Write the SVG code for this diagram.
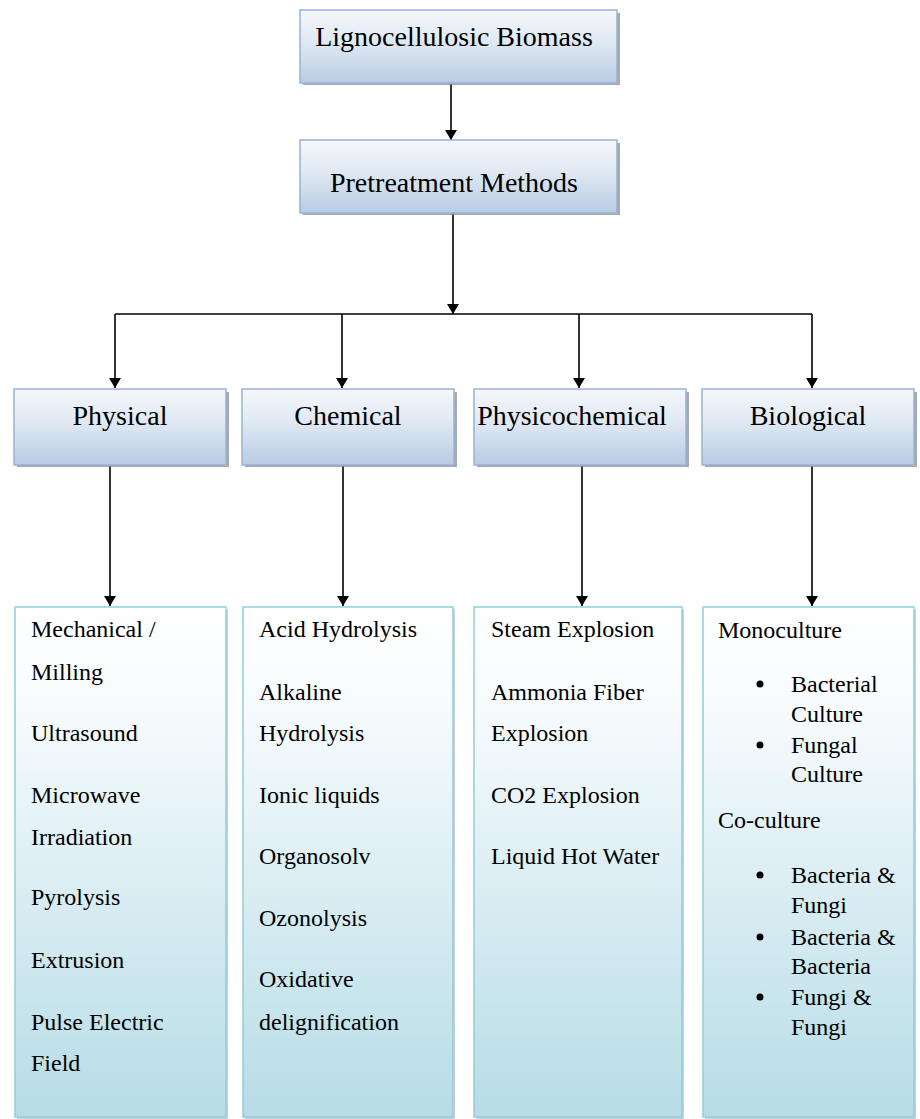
<svg xmlns="http://www.w3.org/2000/svg" width="920" height="1119" viewBox="0 0 920 1119">
<defs>
<linearGradient id="gHead" x1="0" y1="0" x2="0" y2="1">
<stop offset="0" stop-color="#f5f8fc"/>
<stop offset="0.45" stop-color="#dfe8f3"/>
<stop offset="1" stop-color="#b8cce4"/>
</linearGradient>
<linearGradient id="gList" x1="0" y1="0" x2="0" y2="1">
<stop offset="0" stop-color="#ffffff"/>
<stop offset="0.2" stop-color="#f7fbfd"/>
<stop offset="1" stop-color="#b6dce6"/>
</linearGradient>
<marker id="arr" viewBox="0 0 10 12" refX="10" refY="6" markerWidth="10" markerHeight="12" markerUnits="userSpaceOnUse" orient="auto">
<path d="M0,0 L10,6 L0,12 Z" fill="#000"/>
</marker>
</defs>
<style>
.head{fill:url(#gHead);stroke:#95b3d7;stroke-width:1.5}
.shadow{fill:#8c8c8c;opacity:0.75}
.list{fill:url(#gList);stroke:#93cddd;stroke-width:1.5}
.lshadow{fill:#9fb8c0;opacity:0.6}
.t28{font-size:28px;fill:#000}
.t24{font-size:24px;fill:#000}
.ln{stroke:#000;stroke-width:1.6;fill:none}
.bul{fill:#000}
</style>
<rect width="920" height="1119" fill="#ffffff"/>

<g id="connectors">
<line class="ln" x1="451" y1="84" x2="451" y2="140" marker-end="url(#arr)"/>
<line class="ln" x1="453" y1="213" x2="453" y2="314" marker-end="url(#arr)"/>
<line class="ln" x1="115" y1="314" x2="812" y2="314"/>
<line class="ln" x1="115" y1="314" x2="115" y2="388" marker-end="url(#arr)"/>
<line class="ln" x1="342" y1="314" x2="342" y2="388" marker-end="url(#arr)"/>
<line class="ln" x1="579" y1="314" x2="579" y2="388" marker-end="url(#arr)"/>
<line class="ln" x1="812" y1="314" x2="812" y2="388" marker-end="url(#arr)"/>
<line class="ln" x1="110" y1="466" x2="110" y2="606" marker-end="url(#arr)"/>
<line class="ln" x1="343" y1="466" x2="343" y2="606" marker-end="url(#arr)"/>
<line class="ln" x1="582" y1="466" x2="582" y2="606" marker-end="url(#arr)"/>
<line class="ln" x1="812" y1="466" x2="812" y2="606" marker-end="url(#arr)"/>
</g>

<g font-family="Liberation Serif, Times New Roman, DejaVu Serif, serif">
<g id="node-biomass">
<rect class="shadow" x="303" y="13" width="317" height="72"/>
<rect class="head" x="300" y="10" width="317" height="73"/>
<text class="t28" x="454" y="46" text-anchor="middle">Lignocellulosic Biomass</text>
</g>

<g id="node-pretreatment">
<rect class="shadow" x="303" y="143" width="317" height="72"/>
<rect class="head" x="300" y="140" width="317" height="73"/>
<text class="t28" x="454" y="192" text-anchor="middle">Pretreatment Methods</text>
</g>

<g id="node-physical">
<rect class="shadow" x="17" y="392" width="212" height="75"/>
<rect class="head" x="14" y="389" width="212" height="76"/>
<text class="t28" x="120" y="425" text-anchor="middle">Physical</text>
</g>
<g id="node-chemical">
<rect class="shadow" x="245" y="392" width="212" height="75"/>
<rect class="head" x="242" y="389" width="212" height="76"/>
<text class="t28" x="348" y="425" text-anchor="middle">Chemical</text>
</g>
<g id="node-physicochemical">
<rect class="shadow" x="477" y="392" width="212" height="75"/>
<rect class="head" x="474" y="389" width="212" height="76"/>
<text class="t28" x="572" y="425" text-anchor="middle">Physicochemical</text>
</g>
<g id="node-biological">
<rect class="shadow" x="705" y="392" width="212" height="75"/>
<rect class="head" x="702" y="389" width="212" height="76"/>
<text class="t28" x="808" y="425" text-anchor="middle">Biological</text>
</g>

<g id="list-physical">
<rect class="lshadow" x="17" y="609" width="211" height="510"/>
<rect class="list" x="15" y="607" width="211" height="510"/>
<text class="t24" x="31" y="637">Mechanical /</text>
<text class="t24" x="31" y="680">Milling</text>
<text class="t24" x="31" y="741">Ultrasound</text>
<text class="t24" x="31" y="803">Microwave</text>
<text class="t24" x="31" y="845">Irradiation</text>
<text class="t24" x="31" y="905">Pyrolysis</text>
<text class="t24" x="31" y="968">Extrusion</text>
<text class="t24" x="31" y="1030">Pulse Electric</text>
<text class="t24" x="31" y="1071">Field</text>
</g>

<g id="list-chemical">
<rect class="lshadow" x="245" y="609" width="210" height="510"/>
<rect class="list" x="243" y="607" width="210" height="510"/>
<text class="t24" x="259" y="637">Acid Hydrolysis</text>
<text class="t24" x="259" y="700">Alkaline</text>
<text class="t24" x="259" y="741">Hydrolysis</text>
<text class="t24" x="259" y="803">Ionic liquids</text>
<text class="t24" x="259" y="864">Organosolv</text>
<text class="t24" x="259" y="926">Ozonolysis</text>
<text class="t24" x="259" y="987">Oxidative</text>
<text class="t24" x="259" y="1030">delignification</text>
</g>

<g id="list-physicochemical">
<rect class="lshadow" x="476" y="609" width="208" height="510"/>
<rect class="list" x="474" y="607" width="208" height="510"/>
<text class="t24" x="491" y="637">Steam Explosion</text>
<text class="t24" x="491" y="700">Ammonia Fiber</text>
<text class="t24" x="491" y="741">Explosion</text>
<text class="t24" x="491" y="803">CO2 Explosion</text>
<text class="t24" x="491" y="864">Liquid Hot Water</text>
</g>

<g id="list-biological">
<rect class="lshadow" x="705" y="609" width="211" height="510"/>
<rect class="list" x="703" y="607" width="211" height="510"/>
<text class="t24" x="718" y="638">Monoculture</text>
<circle class="bul" cx="760" cy="684" r="3.5"/>
<text class="t24" x="791" y="692">Bacterial</text>
<text class="t24" x="791" y="722">Culture</text>
<circle class="bul" cx="760" cy="745" r="3.5"/>
<text class="t24" x="791" y="753">Fungal</text>
<text class="t24" x="791" y="782">Culture</text>
<text class="t24" x="718" y="828">Co-culture</text>
<circle class="bul" cx="760" cy="875" r="3.5"/>
<text class="t24" x="791" y="883">Bacteria &amp;</text>
<text class="t24" x="791" y="913">Fungi</text>
<circle class="bul" cx="760" cy="937" r="3.5"/>
<text class="t24" x="791" y="945">Bacteria &amp;</text>
<text class="t24" x="791" y="974">Bacteria</text>
<circle class="bul" cx="760" cy="997" r="3.5"/>
<text class="t24" x="791" y="1005">Fungi &amp;</text>
<text class="t24" x="791" y="1035">Fungi</text>
</g>
</g>
</svg>
